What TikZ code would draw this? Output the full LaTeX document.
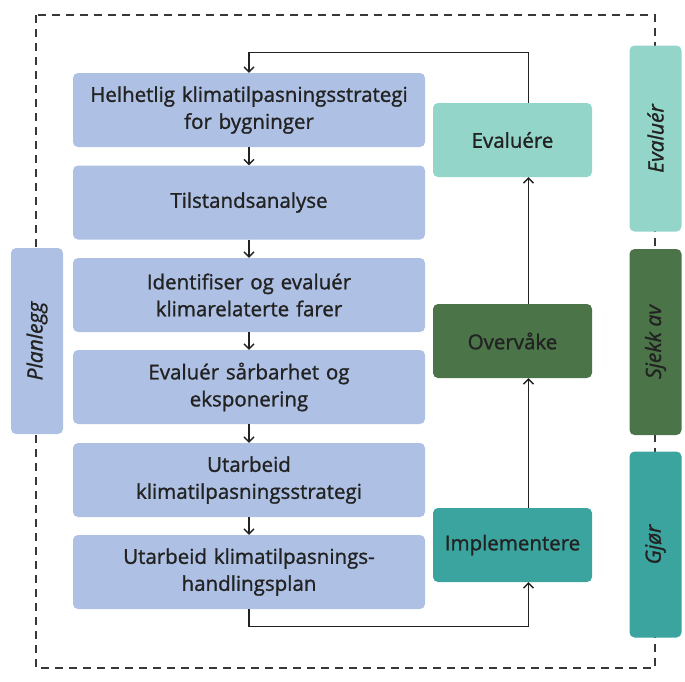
\documentclass[tikz,border=0pt]{standalone}
\usepackage{fontspec}
\setmainfont{Open Sans}[FakeBold=1.2]
\usetikzlibrary{arrows.meta}
\definecolor{planblue}{HTML}{AEC0E3}
\definecolor{evalteal}{HTML}{94D5CA}
\definecolor{checkgreen}{HTML}{4B7449}
\definecolor{doteal}{HTML}{3BA49E}
\definecolor{ink}{HTML}{222222}
\tikzset{
  every node/.style={text=ink, font=\fontsize{20.5}{27}\selectfont},
  stepbox/.style={rounded corners=5pt, fill=planblue, minimum width=352pt, minimum height=74pt, text width=350pt, align=center, inner sep=0pt},
  actbox/.style={rounded corners=5pt, minimum width=159pt, minimum height=74pt, align=center, inner sep=0pt},
  phasebox/.style={rounded corners=5pt, minimum width=186pt, minimum height=52pt, inner sep=0pt, rotate=90, font=\fontsize{21}{24}\selectfont\itshape},
  arr/.style={draw=ink, line width=1.3pt, -{Straight Barb[length=5pt,width=10pt,line width=1.3pt]}},
  frame/.style={draw=ink!90, line width=1.4pt, dash pattern=on 8pt off 6pt},
}
\begin{document}
\begin{tikzpicture}[x=1pt,y=-1pt]
\useasboundingbox (0,0) rectangle (685,681);
% dashed frame behind the phase bars
\draw[frame] (36,15) rectangle (655,668);

% phase bars
\node[phasebox, fill=planblue] (plan) at (37,341) {Planlegg};
\node[phasebox, fill=evalteal] (peval) at (655.5,138.5) {Evaluér};
\node[phasebox, fill=checkgreen] (pcheck) at (655.5,342) {Sjekk av};
\node[phasebox, fill=doteal] (pdo) at (655.5,544.5) {Gjør};

% planning steps
\node[stepbox] (b1) at (249,110) {Helhetlig klimatilpasningsstrategi\\for bygninger};
\node[stepbox] (b2) at (249,202.5) {Tilstandsanalyse};
\node[stepbox] (b3) at (249,295) {Identifiser og evaluér\\klimarelaterte farer};
\node[stepbox] (b4) at (249,387) {Evaluér sårbarhet og\\eksponering};
\node[stepbox] (b5) at (249,480) {Utarbeid\\klimatilpasningsstrategi};
\node[stepbox] (b6) at (249,572) {Utarbeid klimatilpasnings-\\handlingsplan};

% action boxes
\node[actbox, fill=evalteal] (ev) at (512.5,140) {Evaluére};
\node[actbox, fill=checkgreen] (ov) at (512.5,341) {Overvåke};
\node[actbox, fill=doteal] (im) at (512.5,545) {Implementere};

% connectors
\draw[arr] (b1) -- (b2);
\draw[arr] (b2) -- (b3);
\draw[arr] (b3) -- (b4);
\draw[arr] (b4) -- (b5);
\draw[arr] (b5) -- (b6);
\draw[arr] (b6.south) -- ++(0,17) -| ([xshift=16pt]im.south);
\draw[arr] ([xshift=16pt]im.north) -- ([xshift=16pt]ov.south);
\draw[arr] ([xshift=16pt]ov.north) -- ([xshift=16pt]ev.south);
\draw[arr] ([xshift=16pt]ev.north) -- ++(0,-50) -| (b1.north);
\end{tikzpicture}
\end{document}
